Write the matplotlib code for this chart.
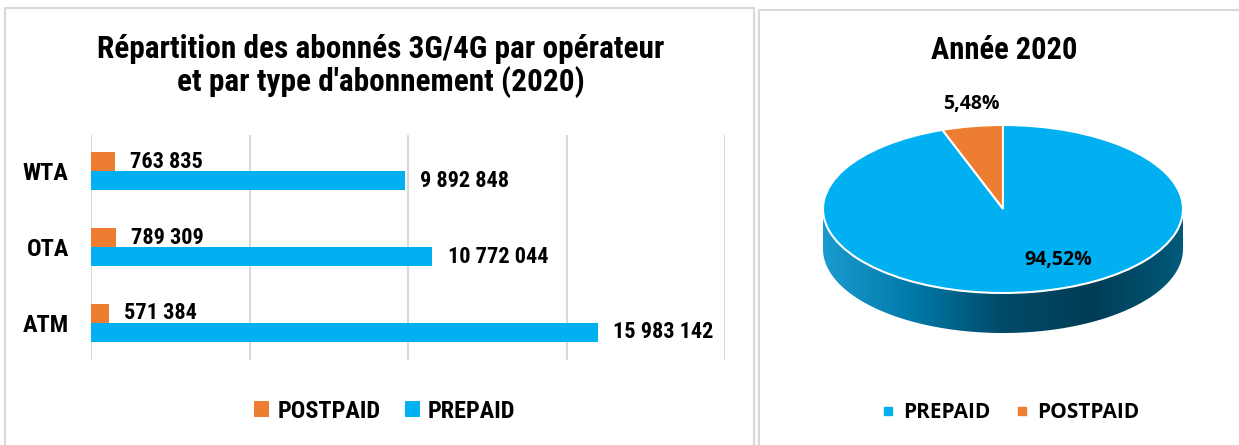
import numpy as np
import matplotlib.pyplot as plt
from matplotlib.colors import LinearSegmentedColormap
from matplotlib.patches import Rectangle, Polygon
from matplotlib.lines import Line2D

# data
operators = ['ATM', 'OTA', 'WTA']
prepaid = [15983142, 10772044, 9892848]
postpaid = [571384, 789309, 763835]
pie_labels = ['PREPAID', 'POSTPAID']

ORANGE = '#ed7d31'
BLUE = '#00b0f0'
GRID = '#d9d9d9'
NARROW = ['Liberation Sans Narrow', 'Roboto Condensed', 'DejaVu Sans']
ROUND = ['Open Sans', 'DejaVu Sans']

W, H = 1239, 445


def px(x0, y0, x1, y1):
    # pixel box (top-left origin) -> figure rect
    return [x0 / W, 1 - y1 / H, (x1 - x0) / W, (y1 - y0) / H]


def fmt(v):
    return f'{v:,}'.replace(',', ' ')


narrow = dict(family=NARROW, fontweight='bold', fontstretch='condensed')

fig = plt.figure(figsize=(W / 100, H / 100), dpi=100)

# panel frames
fig.add_artist(Rectangle((5 / W, -0.05), (754 - 5) / W, 1.05 - 8 / H, transform=fig.transFigure,
                         fill=False, ec=GRID, lw=1.5))
fig.add_artist(Rectangle((759 / W, -0.05), 0.5, 1.05 - 10 / H, transform=fig.transFigure,
                         fill=False, ec=GRID, lw=1.5))

# ---- left: horizontal bars
ax = fig.add_axes(px(91, 135, 725, 360))
y = np.arange(len(operators))
h = 0.25
b_pre = ax.barh(y - h / 2, prepaid, height=h, color=BLUE, label='PREPAID')
b_post = ax.barh(y + h / 2, postpaid, height=h, color=ORANGE, label='POSTPAID')
ax.set_xlim(0, 20e6)
ax.set_ylim(-0.49, 2.48)
ax.set_xticks(np.arange(0, 20e6 + 1, 5e6))
ax.tick_params(axis='x', length=0, labelbottom=False)
ax.grid(axis='x', color=GRID, lw=1.5)
ax.set_axisbelow(True)
for s in ax.spines.values():
    s.set_visible(False)
ax.set_yticks(y, operators)
ax.tick_params(axis='y', length=0, pad=16)
for lab in ax.get_yticklabels():
    lab.set(fontsize=17.5, **narrow)

for bars, vals in ((b_pre, prepaid), (b_post, postpaid)):
    ax.bar_label(bars, labels=[fmt(v) for v in vals], padding=11, fontsize=16, **narrow)

fig.text(381 / W, 1 - 66 / H,
         "Répartition des abonnés 3G/4G par opérateur\net par type d'abonnement (2020)",
         ha='center', va='center', fontsize=22.5, linespacing=1.08, **narrow)

fig.legend(handles=[b_post, b_pre], loc='center', bbox_to_anchor=(385 / W, 1 - 411 / H), ncol=2,
           frameon=False, prop=dict(family=NARROW, weight='bold', stretch='condensed', size=17.5),
           handlelength=0.6, handleheight=0.6, columnspacing=1.0, handletextpad=0.35)

# ---- right: 3D-looking pie
tot_pre = sum(prepaid)
tot_post = sum(postpaid)
total = tot_pre + tot_post

RX, RY, CY = 180, 84, 209
depth = 40 / RY
pax = fig.add_axes(px(813, 115, 1193, 345))

t = np.linspace(np.pi, 2 * np.pi, 200)
side = Polygon(np.column_stack([np.r_[np.cos(t), np.cos(t[::-1])],
                                np.r_[np.sin(t), np.sin(t[::-1]) - depth]]),
               closed=True, fc='none', ec='none')
pax.add_patch(side)
cmap = LinearSegmentedColormap.from_list('side', ['#1a9bcf', '#0079a8', '#004a68', '#003d55', '#005a7a'])
grad = np.linspace(0, 1, 256)[None, :]
im = pax.imshow(grad, cmap=cmap, extent=(-1, 1, -1 - depth, 0), aspect='auto', zorder=0)
im.set_clip_path(side)

wedges, _ = pax.pie([tot_post, tot_pre], colors=[ORANGE, BLUE], startangle=90, counterclock=True,
                    wedgeprops=dict(edgecolor='white', linewidth=1.5))
for w in wedges:
    w.set_zorder(2)
pax.set_aspect('auto')
pax.set_xlim(-190 / RX, 190 / RX)
pax.set_ylim((CY - 345) / RY, (CY - 115) / RY)
pax.axis('off')

pct = lambda v: f'{100 * v / total:.2f}%'.replace('.', ',')
pax.text(-0.178, 1.25, pct(tot_post), ha='center', va='center', fontsize=14,
         fontweight='bold', family=ROUND, zorder=3)
pax.text(0.306, -0.607, pct(tot_pre), ha='center', va='center', fontsize=14,
         fontweight='bold', family=ROUND, zorder=3)

fig.text(1004 / W, 1 - 50 / H, 'Année 2020', ha='center', va='center', fontsize=22, **narrow)

handles = [Line2D([], [], ls='', marker='s', ms=6, color=c) for c in (BLUE, ORANGE)]
fig.legend(handles=handles, labels=pie_labels, loc='center', bbox_to_anchor=(1011 / W, 1 - 413 / H),
           ncol=2, frameon=False, prop=dict(family=ROUND, weight='bold', size=15),
           handlelength=0.5, columnspacing=1.3, handletextpad=0.45)

fig.savefig('out.png', dpi=100)
